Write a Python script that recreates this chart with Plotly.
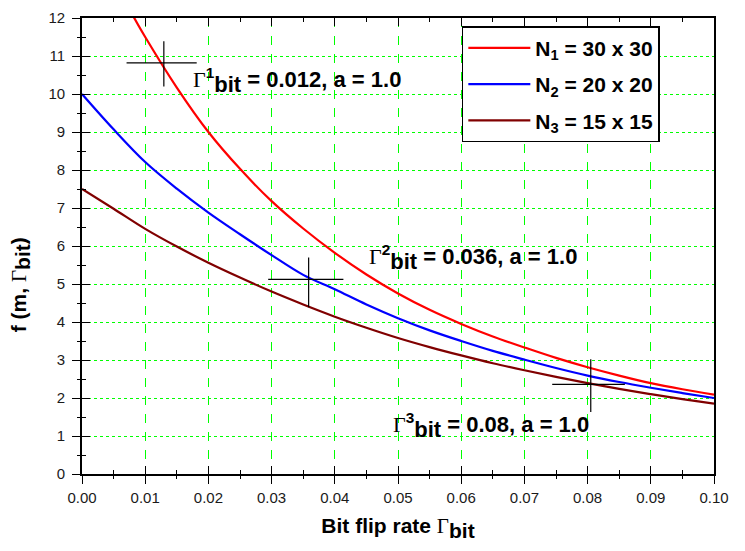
import plotly.graph_objects as go

# ---------------- data ----------------
x_common = [0.000, 0.005, 0.010, 0.015, 0.020, 0.025, 0.030, 0.035, 0.040, 0.045,
            0.050, 0.055, 0.060, 0.065, 0.070, 0.075, 0.080, 0.085, 0.090, 0.095, 0.100]

red_x = [0.0082, 0.010, 0.015, 0.020, 0.025, 0.030, 0.035, 0.040, 0.045,
         0.050, 0.055, 0.060, 0.065, 0.070, 0.075, 0.080, 0.085, 0.090, 0.095, 0.100]
red_y = [12.02, 11.5, 10.17, 9.0, 8.03, 7.18, 6.46, 5.82, 5.25,
         4.75, 4.32, 3.95, 3.62, 3.33, 3.055, 2.81, 2.59, 2.39, 2.23, 2.09]

blue_y = [10.0, 9.07, 8.21, 7.51, 6.88, 6.31, 5.76, 5.24, 4.86, 4.46,
          4.10, 3.78, 3.50, 3.24, 3.01, 2.79, 2.59, 2.42, 2.27, 2.13, 2.00]

brown_y = [7.5, 6.98, 6.45, 5.985, 5.56, 5.17, 4.80, 4.46, 4.14, 3.85,
           3.58, 3.34, 3.12, 2.915, 2.73, 2.555, 2.39, 2.24, 2.10, 1.97, 1.85]

series_names = ["N<sub>1</sub> = 30 x 30", "N<sub>2</sub> = 20 x 20", "N<sub>3</sub> = 15 x 15"]
series_colors = ["#ff0000", "#0000ff", "#800000"]

# crosshair markers
cross_x = [0.01295, 0.03586, 0.0805]
cross_y = [10.82, 5.12, 2.36]
cross_xminus = [0.0059, 0.0064, 0.0061]
cross_xplus = [0.0052, 0.0055, 0.0054]
cross_yminus = [0.62, 0.73, 0.73]
cross_yplus = [0.57, 0.58, 0.66]

# annotation labels
label_rates = ["0.012", "0.036", "0.08"]
label_idx = ["1", "2", "3"]
label_x = [0.0173, 0.0451, 0.0489]
label_y = [10.36, 5.70, 1.28]

x_ticks = [0.00, 0.01, 0.02, 0.03, 0.04, 0.05, 0.06, 0.07, 0.08, 0.09, 0.10]
y_ticks = list(range(0, 13))

SANS = "Liberation Sans, Arial, sans-serif"
SERIF = "Liberation Serif, Times New Roman, serif"
GAM = "<span style='font-family:%s;font-weight:normal'>Γ</span>" % SERIF


def bit(size):
    return "<sub><span style='font-size:%dpx'><b>bit</b></span></sub>" % size


fig = go.Figure()

for i, (xs, ys) in enumerate([(red_x, red_y), (x_common, blue_y), (x_common, brown_y)]):
    fig.add_trace(go.Scatter(x=xs, y=ys, mode="lines", name=series_names[i],
                             legendgroup="g%d" % i,
                             line=dict(color=series_colors[i], width=2.2,
                                       shape="spline", smoothing=1.0)))

fig.add_trace(go.Scatter(
    x=cross_x, y=cross_y, mode="markers", showlegend=False, hoverinfo="skip",
    marker=dict(size=1, color="black"),
    error_x=dict(type="data", symmetric=False, array=cross_xplus, arrayminus=cross_xminus,
                 width=0, thickness=1.2, color="black"),
    error_y=dict(type="data", symmetric=False, array=cross_yplus, arrayminus=cross_yminus,
                 width=0, thickness=1.2, color="black"),
))

# dummy trace to host the overlay axes (outside tick halves)
fig.add_trace(go.Scatter(x=[], y=[], xaxis="x2", yaxis="y2", showlegend=False, hoverinfo="skip"))

for i in range(3):
    txt = (GAM + "<sup>%s</sup>" % label_idx[i] + bit(22) + " = %s, a = 1.0" % label_rates[i])
    fig.add_annotation(x=label_x[i], y=label_y[i], xref="x", yref="y", text=txt,
                       showarrow=False, xanchor="left", yanchor="middle",
                       font=dict(family=SANS, size=22, color="black", weight="bold"))

# y-axis title (placed below the axis centre, as in the reference)
fig.add_annotation(xref="paper", yref="paper", x=0, y=0.414, xshift=-62,
                   xanchor="center", yanchor="middle", textangle=-90, showarrow=False,
                   text="<b>f (m, </b>" + GAM + bit(21) + "<b>)</b>",
                   font=dict(family=SANS, size=21, color="black"))

grid_col = "#00ff00"
tickfont = dict(family=SANS, size=15, color="#1a1a1a")

fig.update_layout(
    width=737, height=543,
    margin=dict(l=74, r=31, t=10, b=77),
    paper_bgcolor="white", plot_bgcolor="white",
    showlegend=True,
    legend=dict(x=0.601, y=0.982, xanchor="left", yanchor="top",
                bgcolor="white", bordercolor="black", borderwidth=1.5,
                font=dict(family=SANS, size=21, color="black", weight="bold"),
                itemwidth=62, tracegroupgap=6),
    xaxis=dict(
        range=[0, 0.1], tickvals=x_ticks, tickformat=".2f",
        ticks="inside", ticklen=8, tickwidth=1.3, tickcolor="black",
        minor=dict(dtick=0.005, ticks="inside", ticklen=4, tickwidth=1.3, tickcolor="black", showgrid=False),
        showline=True, linecolor="black", linewidth=1.6, mirror="ticks",
        showgrid=True, gridcolor=grid_col, gridwidth=1, griddash="dash",
        zeroline=False, tickfont=tickfont, ticklabelstandoff=9, automargin=False,
        title=dict(text="<b>Bit flip rate </b>" + GAM + bit(21),
                   font=dict(family=SANS, size=21, color="black"), standoff=14),
    ),
    yaxis=dict(
        range=[0, 12], tickvals=y_ticks,
        ticks="inside", ticklen=8, tickwidth=1.3, tickcolor="black",
        minor=dict(dtick=0.5, ticks="inside", ticklen=4, tickwidth=1.3, tickcolor="black", showgrid=False),
        showline=True, linecolor="black", linewidth=1.6, mirror=True,
        showgrid=True, gridcolor=grid_col, gridwidth=1, griddash="dot",
        zeroline=False, tickfont=tickfont, ticklabelstandoff=12, automargin=False,
    ),
    xaxis2=dict(
        overlaying="x", anchor="y", side="bottom", range=[0, 0.1], tickvals=x_ticks,
        ticks="outside", ticklen=9, tickwidth=1.3, tickcolor="black",
        minor=dict(dtick=0.005, ticks="outside", ticklen=4, tickwidth=1.3, tickcolor="black"),
        showticklabels=False, showline=False, showgrid=False, zeroline=False,
    ),
    yaxis2=dict(
        overlaying="y", anchor="x", side="left", range=[0, 12], tickvals=y_ticks,
        ticks="outside", ticklen=9, tickwidth=1.3, tickcolor="black",
        minor=dict(dtick=0.5, ticks="outside", ticklen=4, tickwidth=1.3, tickcolor="black"),
        showticklabels=False, showline=False, showgrid=False, zeroline=False,
    ),
)

fig.write_html("out.html")
